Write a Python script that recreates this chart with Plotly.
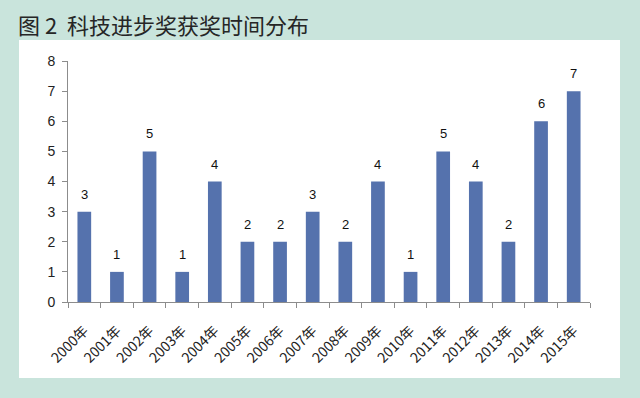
import plotly.graph_objects as go

years = ["2000年", "2001年", "2002年", "2003年", "2004年", "2005年", "2006年", "2007年",
         "2008年", "2009年", "2010年", "2011年", "2012年", "2013年", "2014年", "2015年"]
counts = [3, 1, 5, 1, 4, 2, 2, 3, 2, 4, 1, 5, 4, 2, 6, 7]
y_ticks = [0, 1, 2, 3, 4, 5, 6, 7, 8]

W, H = 640, 398
L, R, T, B = 68, 50, 61, 96
pw, ph = W - L - R, H - T - B

fig = go.Figure()
fig.add_trace(go.Bar(
    x=years, y=counts,
    marker=dict(color="#5572ad", line=dict(width=0)),
    width=0.42,
    hoverinfo="x+y",
))

for xv, yv in zip(years, counts):
    fig.add_annotation(x=xv, y=yv, text=str(yv), showarrow=False,
                       yanchor="bottom", yshift=8,
                       font=dict(family="Liberation Sans, Arial, sans-serif", size=13, color="#111111"))

# white panel
fig.add_shape(type="rect", xref="paper", yref="paper",
              x0=(19 - L) / pw, x1=(620 - L) / pw,
              y0=((H - B) - 378) / ph, y1=((H - B) - 40) / ph,
              fillcolor="white", line=dict(width=0), layer="below")

fig.add_annotation(xref="paper", yref="paper",
                   x=(16 - L) / pw, y=((H - B) - 24) / ph,
                   xanchor="left", yanchor="middle", showarrow=False,
                   text="图 2  科技进步奖获奖时间分布",
                   font=dict(family="Noto Sans CJK SC", size=22, color="#262626"))

fig.update_layout(
    width=W, height=H,
    margin=dict(l=L, r=R, t=T, b=B, autoexpand=False),
    paper_bgcolor="#c9e4dc",
    plot_bgcolor="rgba(0,0,0,0)",
    showlegend=False,
    xaxis=dict(
        type="category", showgrid=False, zeroline=False,
        showline=True, linecolor="#8c8c8c", linewidth=1,
        ticks="outside", tickson="boundaries", ticklen=5, tickcolor="#8c8c8c",
        tickangle=-45, ticklabelstandoff=14,
        tickfont=dict(family="Noto Sans CJK SC", size=14, color="#222222"),
    ),
    yaxis=dict(
        range=[0, 8], tickvals=y_ticks, showgrid=False, zeroline=False,
        showline=True, linecolor="#8c8c8c", linewidth=1,
        ticks="outside", ticklen=5, tickcolor="#8c8c8c", ticklabelstandoff=4,
        tickfont=dict(family="Liberation Sans, Arial, sans-serif", size=14, color="#222222"),
    ),
)

fig.write_html("out.html", config={"displayModeBar": False},
               post_script="document.body.style.margin='0';document.body.style.overflow='hidden';")
